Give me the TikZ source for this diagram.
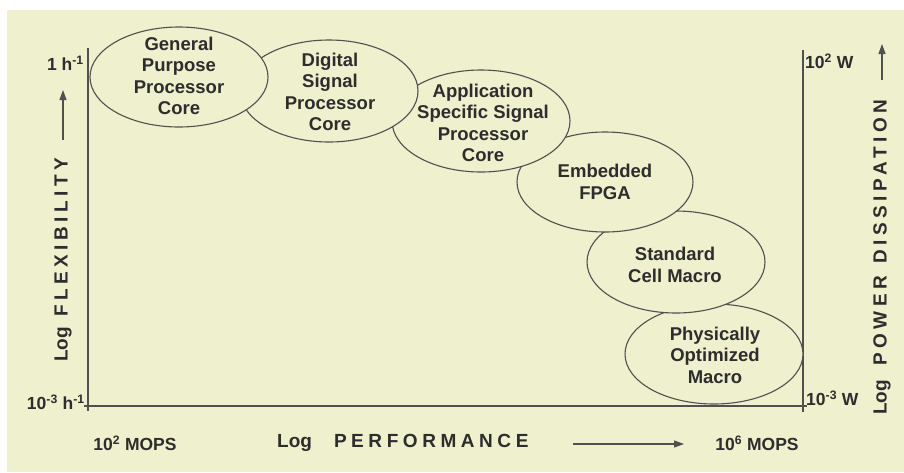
\documentclass[tikz,border=0pt]{standalone}
\usepackage{fontspec}
\setmainfont{Liberation Sans}
\newfontfamily\spacedfont{Liberation Sans}[LetterSpace=24]
\usetikzlibrary{shapes.geometric, arrows.meta}
\definecolor{mybg}{RGB}{238,240,206}
\definecolor{myink}{RGB}{45,45,45}
\definecolor{myline}{RGB}{80,80,80}
\tikzset{
  blob/.style={ellipse, draw=myline, fill=mybg, line width=1.1pt, inner sep=0pt},
  blobtext/.style={align=center, font=\fontsize{18.5}{21.5}\selectfont\bfseries,
    text=myink, inner sep=0pt},
  ticklabel/.style={font=\fontsize{17.5}{19}\selectfont\bfseries, text=myink, inner sep=1pt},
  axislabel/.style={font=\fontsize{19}{21}\selectfont\bfseries, text=myink, inner sep=0pt},
  axis/.style={line width=1.3pt, color=myline},
  arrow/.style={-{Triangle[length=10pt,width=7pt]}, line width=1.1pt, color=myline}
}

\begin{document}
\begin{tikzpicture}[x=1pt, y=-1pt]
  \useasboundingbox (0,0) rectangle (904,472);
  \fill[mybg] (7,10) rectangle (904,472);

  % Axes
  \coordinate (ltop) at (88,48);
  \coordinate (lbot) at (88,411);
  \coordinate (bleft) at (84,406);
  \coordinate (bright) at (807,406);
  \coordinate (rtop) at (803,50);
  \coordinate (rbot) at (803,412);
  \draw[axis] (ltop) -- (lbot);
  \draw[axis] (bleft) -- (bright);
  \draw[axis] (rtop) -- (rbot);

  % Blobs, lowest first so each one hides the next
  \node[blob, minimum width=178, minimum height=100] (pom) at (714,354) {};
  \node[blob, minimum width=178, minimum height=102] (scm) at (676,262) {};
  \node[blob, minimum width=176, minimum height=100] (fpga) at (605,182) {};
  \node[blob, minimum width=178, minimum height=102] (asp) at (481,121) {};
  \node[blob, minimum width=178, minimum height=102] (dsp) at (329,91) {};
  \node[blob, minimum width=178, minimum height=100] (gpp) at (179,77) {};

  \node[blobtext] (gpp-t) at (179,76) {General\\Purpose\\Processor\\Core};
  \node[blobtext] (dsp-t) at (330,92) {Digital\\Signal\\Processor\\Core};
  \node[blobtext] (asp-t) at (483,123) {Application\\Specific Signal\\Processor\\Core};
  \node[blobtext] (fpga-t) at (605,182) {Embedded\\FPGA};
  \node[blobtext] (scm-t) at (675,265) {Standard\\Cell Macro};
  \node[blobtext] (pom-t) at (715,355) {Physically\\Optimized\\Macro};

  % Tick labels
  \node[ticklabel, anchor=east] (fmax) at (85,63) {1 h\textsuperscript{-1}};
  \node[ticklabel, anchor=east] (fmin) at (86,402) {10\textsuperscript{-3} h\textsuperscript{-1}};
  \node[ticklabel] (pmin) at (135,443) {10\textsuperscript{2} MOPS};
  \node[ticklabel] (pmax) at (757,443) {10\textsuperscript{6} MOPS};
  \node[ticklabel, anchor=west] (wmax) at (804,61) {10\textsuperscript{2} W};
  \node[ticklabel, anchor=west] (wmin) at (805,398) {10\textsuperscript{-3} W};

  % Axis titles
  \node[axislabel, anchor=west] (perf) at (277,443) {Log\hspace{22pt}{\spacedfont PERFORMANCE}};
  \node[axislabel, rotate=90, anchor=west] (flex) at (63,362) {Log\hspace{10pt}{\spacedfont FLEXIBILITY}};
  \node[axislabel, rotate=90, anchor=west] (power) at (882,415) {Log\hspace{14pt}{\spacedfont POWER\hspace{12pt}DISSIPATION}};

  \coordinate (perf-a) at (573,444);
  \coordinate (perf-b) at (684,444);
  \coordinate (flex-a) at (63,140);
  \coordinate (flex-b) at (63,90);
  \coordinate (power-a) at (882,80);
  \coordinate (power-b) at (882,44);
  \draw[arrow] (perf-a) -- (perf-b);
  \draw[arrow] (flex-a) -- (flex-b);
  \draw[arrow] (power-a) -- (power-b);
\end{tikzpicture}
\end{document}
